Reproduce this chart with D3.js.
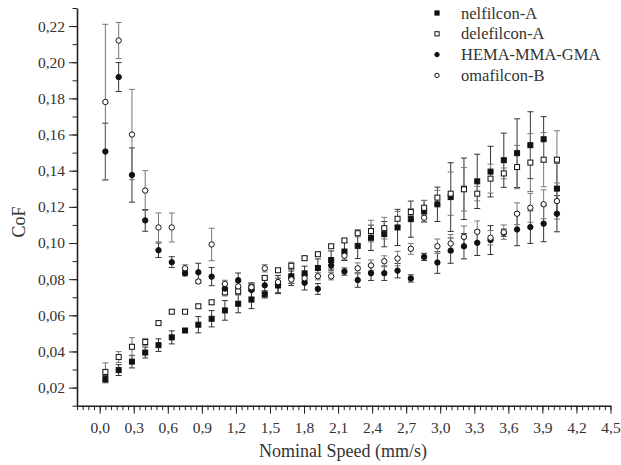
<!DOCTYPE html>
<html>
<head>
<meta charset="utf-8">
<script src="https://cdn.jsdelivr.net/npm/d3@7"></script>
<style>
  body { margin: 0; background: #fff; }
  svg { display: block; }
  svg text { font-family: "Liberation Serif", "DejaVu Serif", serif !important; }
  .axis path, .axis line { stroke: #222; }
  .axis text { font-size: 15.5px; fill: #333; }
</style>
</head>
<body>
<svg width="621" height="465"></svg>
<script>
// nominal speed (mm/s)
var speed = [0.05,0.167,0.284,0.401,0.518,0.635,0.752,0.869,0.986,1.103,1.22,1.337,1.454,1.571,1.688,1.805,1.922,2.039,2.156,2.273,2.39,2.507,2.624,2.741,2.858,2.975,3.092,3.209,3.326,3.443,3.56,3.677,3.794,3.911,4.028];

var nelfilcon = [0.0247,0.0297,0.0344,0.0394,0.0435,0.0478,0.0516,0.0548,0.0581,0.0627,0.0664,0.0687,0.0716,0.0765,0.0816,0.0832,0.0862,0.0906,0.0953,0.0984,0.1029,0.1049,0.1086,0.1132,0.1176,0.1214,0.1254,0.1300,0.1341,0.1395,0.1458,0.1497,0.1541,0.1574,0.1301];
var nelfilconErr = [0.002,0.003,0.0035,0.003,0.0035,0.0036,0.001,0.0045,0.0045,0.0054,0.005,0.005,0.002,0.004,0.004,0.004,0.005,0.005,0.005,0.007,0.007,0.007,0.01,0.01,0.006,0.0095,0.019,0.017,0.015,0.014,0.015,0.019,0.0185,0.0125,0.014];

var delefilcon = [0.0287,0.0369,0.0426,0.0452,0.0557,0.0620,0.0620,0.0650,0.0672,0.0727,0.0733,0.0755,0.0807,0.0849,0.0874,0.0916,0.0938,0.0982,0.1014,0.1054,0.1066,0.1082,0.1134,0.1171,0.1195,0.1251,0.1273,0.1297,0.1273,0.1356,0.1385,0.1420,0.1445,0.1461,0.1461];
var delefilconErr = [0.005,0.003,0.005,0.002,0.001,0.001,0.001,0.001,0.001,0.002,0.002,0.002,0.001,0.001,0.002,0.001,0.001,0.001,0.001,0.002,0.006,0.006,0.004,0.002,0.004,0.004,0.012,0.012,0.004,0.008,0.003,0.012,0.016,0.015,0.016];

var hema = [0.1506,0.1918,0.1376,0.1125,0.0960,0.0894,0.0833,0.0838,0.0814,0.0748,0.0794,0.0740,0.0766,0.0770,0.0805,0.0780,0.0746,0.0876,0.0842,0.0795,0.0833,0.0833,0.0847,0.0804,0.0923,0.0892,0.0958,0.0982,0.1001,0.1016,0.1057,0.1075,0.1088,0.1107,0.1162];
var hemaErr = [0.0157,0.008,0.015,0.006,0.004,0.003,0.0015,0.005,0.005,0.003,0.004,0.004,0.004,0.005,0.004,0.004,0.003,0.003,0.002,0.004,0.004,0.004,0.004,0.002,0.002,0.006,0.007,0.007,0.007,0.008,0.002,0.009,0.009,0.01,0.01];

var omafilcon = [0.1780,0.2120,0.1600,0.1290,0.1086,0.1086,0.0860,0.0787,0.0992,0.0774,0.0760,0.0755,0.0860,0.0784,0.0798,0.0805,0.0816,0.0816,0.0930,0.0860,0.0876,0.0899,0.0914,0.0968,0.1140,0.0982,0.0997,0.1034,0.1062,0.1029,0.1060,0.1162,0.1195,0.1214,0.1232];
var omafilconErr = [0.043,0.010,0.025,0.011,0.008,0.008,0.002,0.001,0.009,0.002,0.002,0.002,0.002,0.002,0.002,0.002,0.002,0.002,0.002,0.003,0.003,0.003,0.004,0.003,0.002,0.004,0.005,0.006,0.006,0.004,0.004,0.006,0.008,0.008,0.01];

var seriesNames = ["nelfilcon-A", "delefilcon-A", "HEMA-MMA-GMA", "omafilcon-B"];

var xTicks = d3.range(0, 4.51, 0.3);
var yTicks = d3.range(0.02, 0.221, 0.02);

var series = [
	{name: seriesNames[0], vals: nelfilcon, err: nelfilconErr, shape: "square", fill: "#111", bar: "#333"},
	{name: seriesNames[1], vals: delefilcon, err: delefilconErr, shape: "square", fill: "#fff", bar: "#777"},
	{name: seriesNames[2], vals: hema, err: hemaErr, shape: "circle", fill: "#111", bar: "#333"},
	{name: seriesNames[3], vals: omafilcon, err: omafilconErr, shape: "circle", fill: "#fff", bar: "#777"}
];

var svg = d3.select("svg");
var comma = d3.formatLocale({decimal: ",", thousands: ".", grouping: [3], currency: ["", ""]});

var x = d3.scaleLinear().domain([-0.2, 4.5]).range([77, 610.5]);
var y = d3.scaleLinear().domain([0.01, 0.23]).range([405.7, 8]);

// minor ticks
svg.append("g")
	.attr("class", "axis")
	.attr("transform", "translate(0," + y(0.01) + ")")
	.call(d3.axisBottom(x).tickValues(d3.range(-0.2, 4.501, 0.05)).tickSize(4.5).tickFormat(""))
	.call(g => g.select(".domain").remove());
svg.append("g")
	.attr("class", "axis")
	.attr("transform", "translate(" + x(-0.2) + ",0)")
	.call(d3.axisLeft(y).tickValues(d3.range(0.01, 0.2301, 0.01)).tickSize(4.5).tickFormat(""))
	.call(g => g.select(".domain").remove());

// major axes
var xAxis = svg.append("g")
	.attr("class", "axis")
	.attr("transform", "translate(0," + y(0.01) + ")")
	.call(d3.axisBottom(x).tickValues(xTicks).tickSize(8).tickSizeOuter(0).tickPadding(8).tickFormat(comma.format(".1f")));
xAxis.select(".domain").attr("stroke-width", 1.6);

var yAxis = svg.append("g")
	.attr("class", "axis")
	.attr("transform", "translate(" + x(-0.2) + ",0)")
	.call(d3.axisLeft(y).tickValues(yTicks).tickSize(8).tickSizeOuter(0).tickPadding(4).tickFormat(comma.format(".2f")));
yAxis.select(".domain").attr("stroke-width", 1.6);

svg.append("text")
	.attr("x", 343).attr("y", 457)
	.attr("text-anchor", "middle")
	.style("font-size", "18px").style("fill", "#333")
	.text("Nominal Speed (mm/s)");

svg.append("text")
	.attr("transform", "translate(25,222) rotate(-90)")
	.attr("text-anchor", "middle")
	.style("font-size", "18px").style("fill", "#333")
	.text("CoF");

function drawMark(g, shape, fill, s) {
	if (shape == "square") {
		g.append("rect").attr("x", -s / 2).attr("y", -s / 2).attr("width", s).attr("height", s)
			.attr("fill", fill).attr("stroke", "#111").attr("stroke-width", 1);
	} else {
		g.append("circle").attr("r", s / 2)
			.attr("fill", fill).attr("stroke", "#111").attr("stroke-width", 1);
	}
}

// error bars
series.forEach(function (s) {
	var pts = s.vals.map((v, i) => ({x: speed[i], y: v, e: s.err[i]}));
	var eb = svg.append("g").attr("stroke", s.bar).attr("stroke-width", 1).attr("fill", "none");
	eb.selectAll("path").data(pts).enter().append("path")
		.attr("d", function (d) {
			var cx = x(d.x), t = y(d.y + d.e), b = y(d.y - d.e);
			return "M" + cx + "," + t + "V" + b + "M" + (cx - 3) + "," + t + "H" + (cx + 3) + "M" + (cx - 3) + "," + b + "H" + (cx + 3);
		});
});

// markers
series.forEach(function (s) {
	var pts = s.vals.map((v, i) => ({x: speed[i], y: v}));
	svg.append("g").selectAll("g").data(pts).enter().append("g")
		.attr("transform", d => "translate(" + x(d.x) + "," + y(d.y) + ")")
		.each(function () { drawMark(d3.select(this), s.shape, s.fill, s.shape == "square" ? 5 : 5.4); });
});

// legend
var legend = svg.append("g").attr("transform", "translate(437,13)");
series.forEach(function (s, i) {
	var row = legend.append("g").attr("transform", "translate(0," + (i * 20.8) + ")");
	drawMark(row, s.shape, s.fill, s.shape == "square" ? 4.2 : 4.4);
	row.append("text").attr("x", 24).attr("y", 5.5)
		.style("font-size", "16.5px").style("fill", "#333")
		.text(s.name);
});
</script>
</body>
</html>
